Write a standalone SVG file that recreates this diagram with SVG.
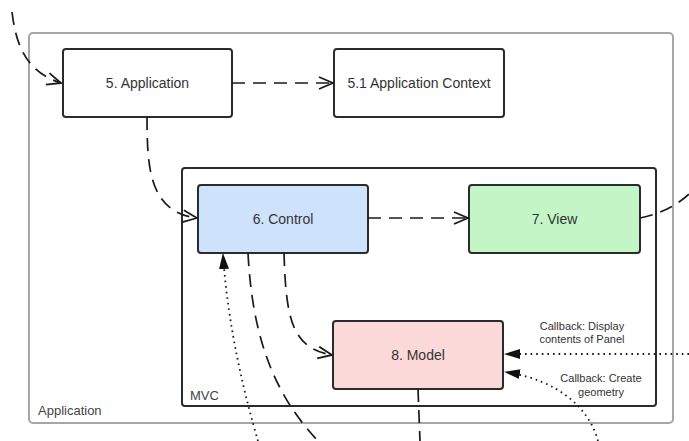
<svg xmlns="http://www.w3.org/2000/svg" width="689" height="441" viewBox="0 0 689 441">
  <style>
    .node { stroke: #2b2b2b; stroke-width: 2; }
    .label { font-family: "Liberation Sans", Arial, sans-serif; font-size: 14px; fill: #333; text-anchor: middle; dominant-baseline: central; }
    .note { font-family: "Liberation Sans", Arial, sans-serif; font-size: 11px; fill: #333; text-anchor: middle; }
    .group-title { font-family: "Liberation Sans", Arial, sans-serif; font-size: 13px; fill: #444; }
    .dash { fill: none; stroke: #1a1a1a; stroke-width: 1.7; stroke-dasharray: 13 8; }
    .dot { fill: none; stroke: #1a1a1a; stroke-width: 1.8; stroke-dasharray: 1.6 4; }
  </style>
  <defs>
    <marker id="open" viewBox="0 0 16 14" refX="15" refY="7" markerWidth="16" markerHeight="14" markerUnits="userSpaceOnUse" orient="auto">
      <path d="M1,1 L15,7 L1,13" fill="none" stroke="#1a1a1a" stroke-width="1.8" stroke-dasharray="none"/>
    </marker>
    <marker id="solid" viewBox="0 0 16 12" refX="15" refY="6" markerWidth="16" markerHeight="12" markerUnits="userSpaceOnUse" orient="auto">
      <path d="M0,1 L16,6 L0,11 Z" fill="#111" stroke="none"/>
    </marker>
  </defs>

  <rect width="689" height="441" fill="#fff"/>

  <!-- outer container -->
  <g id="app-container">
    <rect x="29" y="33" width="644" height="390" rx="4" fill="#fff" stroke="#a6a6a6" stroke-width="2"/>
    <text class="group-title" x="38" y="415">Application</text>
  </g>

  <!-- MVC container -->
  <g id="mvc-container">
    <rect x="182" y="168" width="474" height="238" rx="3" fill="#fff" stroke="#2b2b2b" stroke-width="2"/>
    <text class="group-title" x="190" y="400">MVC</text>
  </g>

  <g id="application">
    <rect class="node" x="63" y="49" width="169" height="68" rx="3" fill="#fff"/>
    <text class="label" x="147.5" y="83">5. Application</text>
  </g>

  <g id="application-context">
    <rect class="node" x="334" y="49" width="170" height="68" rx="3" fill="#fff"/>
    <text class="label" x="419" y="83">5.1 Application Context</text>
  </g>

  <g id="control">
    <rect class="node" x="198" y="185" width="170" height="68" rx="3" fill="#cfe2fb"/>
    <text class="label" x="283" y="219">6. Control</text>
  </g>

  <g id="view">
    <rect class="node" x="469" y="185" width="171" height="68" rx="3" fill="#c4f5c6"/>
    <text class="label" x="554.5" y="219">7. View</text>
  </g>

  <g id="model">
    <rect class="node" x="333" y="321" width="170" height="68" rx="3" fill="#fcd9d9"/>
    <text class="label" x="418" y="355">8. Model</text>
  </g>

  <g id="connectors">
    <!-- into Application from above -->
    <path class="dash" d="M12,12 C16,45 26,72 61,83" marker-end="url(#open)"/>
    <!-- Application -> Application Context -->
    <path class="dash" d="M232,83 L333,83" marker-end="url(#open)"/>
    <!-- Application -> Control -->
    <path class="dash" d="M147,117 C147,170 150,212 197,218" marker-end="url(#open)"/>
    <!-- Control -> View -->
    <path class="dash" d="M368,218 L468,218" marker-end="url(#open)"/>
    <!-- View -> outside -->
    <path class="dash" d="M640,218 C660,214 676,206 689,194"/>
    <!-- Control -> Model -->
    <path class="dash" d="M284,253 C286,320 292,348 332,355" marker-end="url(#open)"/>
    <!-- Control -> down out of frame -->
    <path class="dash" d="M248,253 C252,330 270,390 318,441"/>
    <!-- Model -> down -->
    <path class="dash" d="M418,389 L420,441"/>
    <!-- dotted callback into Control -->
    <path class="dot" d="M258,441 C246,400 228,330 223,254" marker-end="url(#solid)"/>
    <!-- Callback: Display contents of Panel -->
    <path class="dot" d="M689,354 L505,354" marker-end="url(#solid)"/>
    <!-- Callback: Create geometry -->
    <path class="dot" d="M598,441 C590,410 560,380 505,372" marker-end="url(#solid)"/>
  </g>

  <g id="labels">
    <text class="note" x="582" y="330">Callback: Display</text>
    <text class="note" x="582" y="343">contents of Panel</text>
    <text class="note" x="601" y="382">Callback: Create</text>
    <text class="note" x="601" y="396">geometry</text>
  </g>
</svg>
